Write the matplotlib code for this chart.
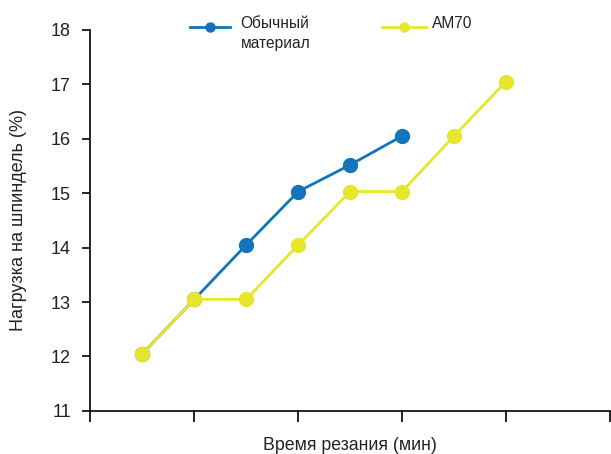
import numpy as np
import matplotlib.pyplot as plt
from matplotlib.lines import Line2D

plt.rcParams['font.family'] = ['Liberation Sans', 'DejaVu Sans']

# time steps (no tick labels on the x axis)
x_blue = [1, 2, 3, 4, 5, 6]
y_blue = [12.05, 13.05, 14.05, 15.03, 15.52, 16.05]
x_yellow = [1, 2, 3, 4, 5, 6, 7, 8]
y_yellow = [12.05, 13.05, 13.05, 14.05, 15.03, 15.03, 16.05, 17.05]
labels = ["Обычный\nматериал", "AM70"]
yticks = [11, 12, 13, 14, 15, 16, 17, 18]

blue = "#1474bb"
yellow = "#e6e62a"
text_color = "#222222"

fig = plt.figure(figsize=(6.11, 4.54), dpi=100)
ax = fig.add_axes([0.148, 0.095, 0.85, 0.839])

ax.plot(x_blue, y_blue, "-o", color=blue, lw=2, ms=10, zorder=2)
ax.plot(x_yellow, y_yellow, "-o", color=yellow, lw=2, ms=10, zorder=3)

ax.set_xlim(0, 10)
ax.set_ylim(11, 18)
ax.set_xticks([0, 2, 4, 6, 8, 10])
ax.set_xticklabels([])
ax.set_yticks(yticks)
ax.tick_params(axis="y", length=6, width=1.2, labelsize=13, pad=8, labelcolor=text_color)
ax.tick_params(axis="x", length=8, width=1.2)
for spine in ("top", "right"):
    ax.spines[spine].set_visible(False)
for spine in ("left", "bottom"):
    ax.spines[spine].set_linewidth(1.2)

ax.set_xlabel("Время резания (мин)", fontsize=12.8, va="center", color=text_color)
ax.xaxis.set_label_coords(0.5, -0.09)
ax.set_ylabel("Нагрузка на шпиндель (%)", fontsize=13, va="center", color=text_color)
ax.yaxis.set_label_coords(-0.138, 0.5)

# legend drawn by hand: marker line with multi-line text aligned to the top
legend_items = [
    (blue, 0.311, 0.377, 0.394, labels[0]),
    (yellow, 0.625, 0.698, 0.707, labels[1]),
]
ly = 1 - 27 / 454
for color, x0, x1, tx, text in legend_items:
    fig.add_artist(Line2D([x0, x1], [ly, ly], color=color, lw=2,
                          transform=fig.transFigure))
    fig.add_artist(Line2D([(x0 + x1) / 2], [ly], color=color, marker="o", ms=6.5,
                          transform=fig.transFigure))
    fig.text(tx, 1 - 16 / 454, text, fontsize=11.2, va="top", ha="left",
             linespacing=1.4, color=text_color)

fig.savefig("out.png", dpi=100)
